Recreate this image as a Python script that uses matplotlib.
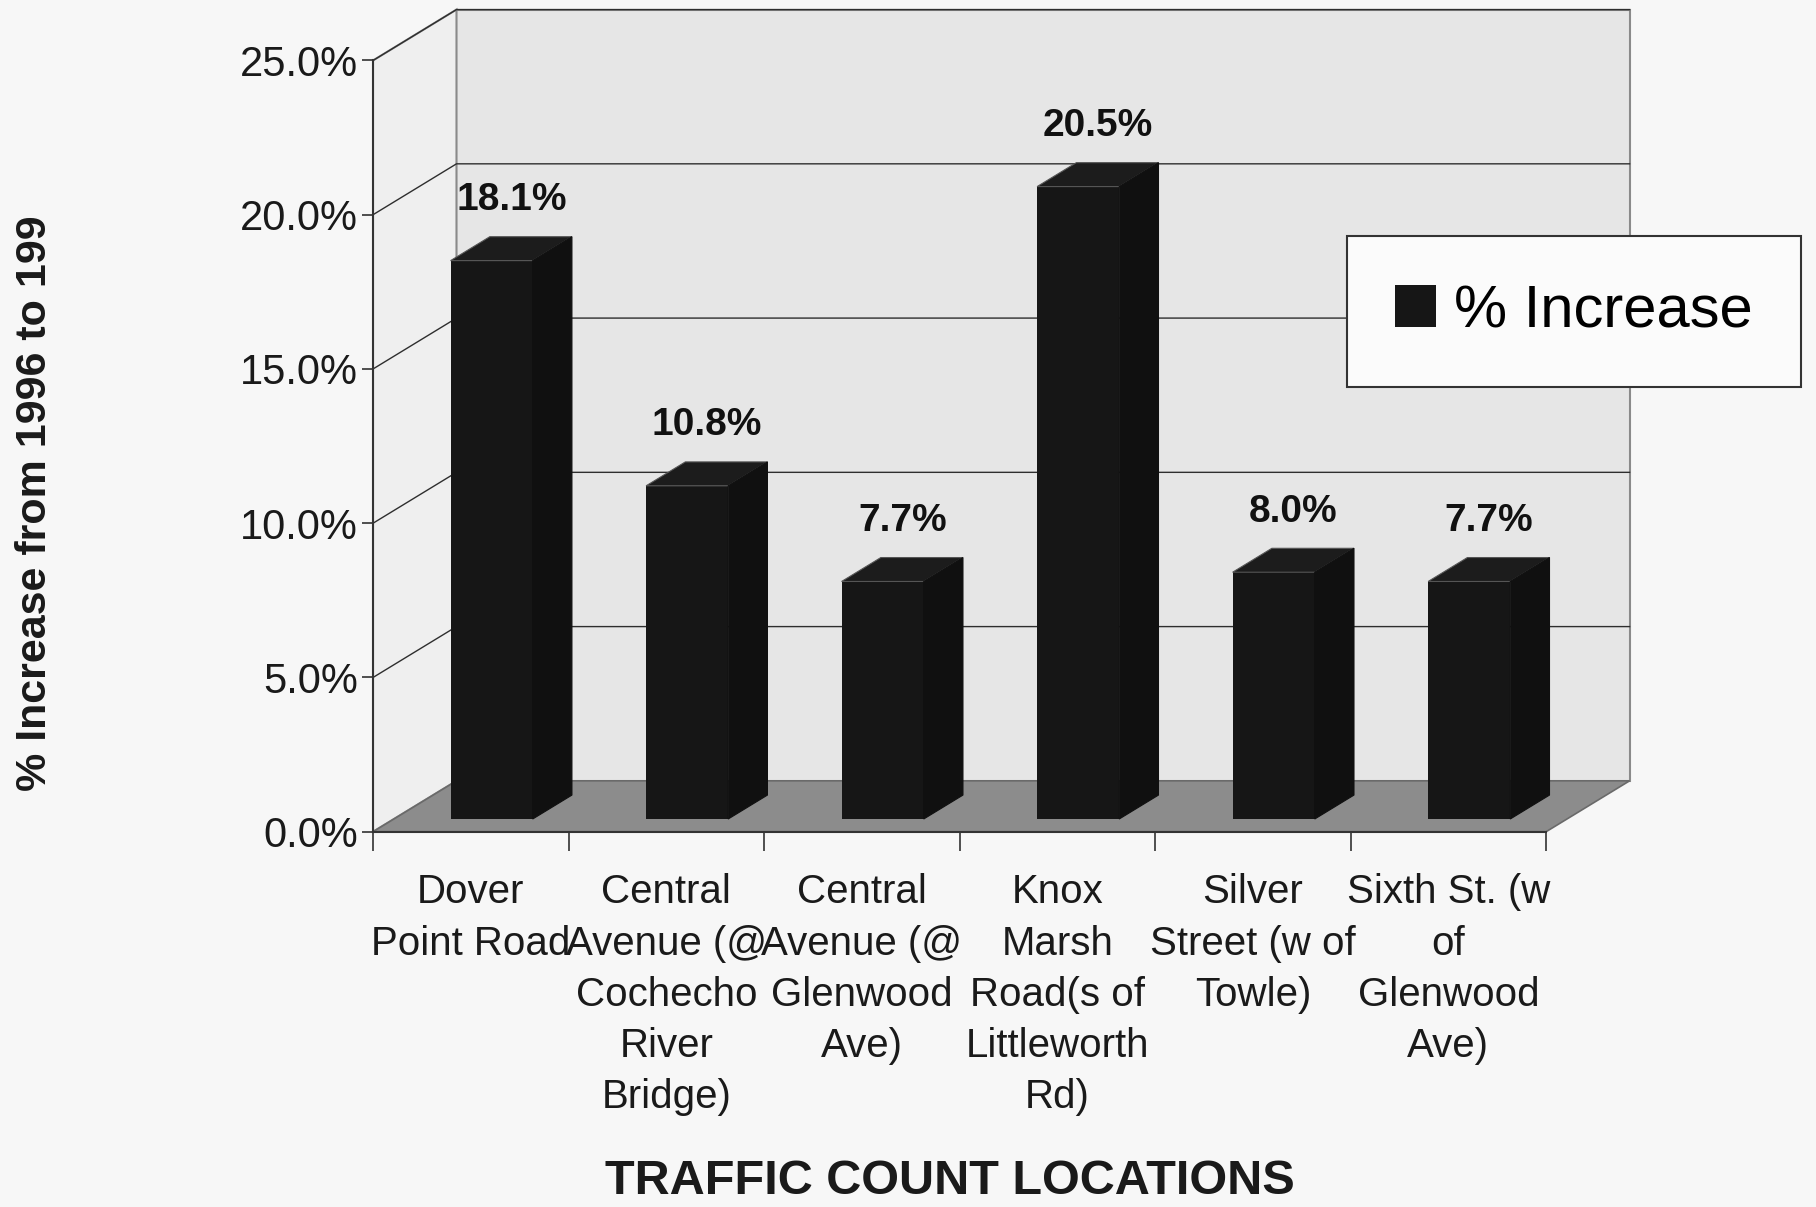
import numpy as np
import matplotlib
matplotlib.use("Agg")
import matplotlib.pyplot as plt
from matplotlib.patches import Polygon, Patch

plt.rcParams['font.family'] = ['Liberation Sans', 'DejaVu Sans']

locations = [
    "Dover\nPoint Road",
    "Central\nAvenue (@\nCochecho\nRiver\nBridge)",
    "Central\nAvenue (@\nGlenwood\nAve)",
    "Knox\nMarsh\nRoad(s of\nLittleworth\nRd)",
    "Silver\nStreet (w of\nTowle)",
    "Sixth St. (w\nof\nGlenwood\nAve)",
]
pct_increase = [18.1, 10.8, 7.7, 20.5, 8.0, 7.7]
y_ticks = [0, 5, 10, 15, 20, 25]

# fake 3d: depth offset of the box in data units
DX, DY = 0.427, 1.65
D0, D1 = 0.25, 0.72     # bar front / back position inside the depth
BW = 0.42               # bar front face width
n = len(locations)
xs = np.arange(n)
ymax = y_ticks[-1]

fig = plt.figure(figsize=(18.16, 12.07), dpi=100)
fig.patch.set_facecolor('#f7f7f7')
ax = fig.add_axes([0.2054, 0.3109, 0.6998, 0.685])
ax.set_xlim(-0.5, 6.0)
ax.set_ylim(0, 26.8)
ax.patch.set_visible(False)

x0, x1 = -0.5, n - 0.5
# back wall
ax.add_patch(Polygon([(x0 + DX, DY), (x1 + DX, DY), (x1 + DX, ymax + DY), (x0 + DX, ymax + DY)],
                     closed=True, facecolor='#e6e6e6', edgecolor='#8a8a8a', lw=1.5, zorder=0))
# left side wall
ax.add_patch(Polygon([(x0, 0), (x0 + DX, DY), (x0 + DX, ymax + DY), (x0, ymax)],
                     closed=True, facecolor='#efefef', edgecolor='#8a8a8a', lw=1.5, zorder=0))
# floor
ax.add_patch(Polygon([(x0, 0), (x1, 0), (x1 + DX, DY), (x0 + DX, DY)],
                     closed=True, facecolor='#8c8c8c', edgecolor='#6a6a6a', lw=1.2, zorder=1))

# gridlines on walls
for t in y_ticks[1:]:
    ax.plot([x0, x0 + DX, x1 + DX], [t, t + DY, t + DY], color='#2e2e2e', lw=1.0, zorder=1)

# bars: front face through ax.bar, top and side faces as polygons
front_left = xs - BW / 2 + D0 * DX
base = D0 * DY
ax.bar(front_left, pct_increase, width=BW, bottom=base, align='edge',
       color='#161616', zorder=3)
bdx, bdy = (D1 - D0) * DX, (D1 - D0) * DY
for xl, v in zip(front_left, pct_increase):
    xr = xl + BW
    top = base + v
    ax.add_patch(Polygon([(xl, top), (xr, top), (xr + bdx, top + bdy), (xl + bdx, top + bdy)],
                         closed=True, facecolor='#1c1c1c', edgecolor='#555555', lw=0.8, zorder=3))
    ax.add_patch(Polygon([(xr, base), (xr + bdx, base + bdy), (xr + bdx, top + bdy), (xr, top)],
                         closed=True, facecolor='#101010', edgecolor='#101010', lw=0.8, zorder=3))
    ax.text(xl + (BW + bdx) / 2, top + bdy + 0.6, f"{v:.1f}%", ha='center', va='bottom',
            fontsize=28, fontweight='bold', color='#111111', zorder=4)

# axes
for s in ['top', 'right']:
    ax.spines[s].set_visible(False)
ax.spines['left'].set_bounds(0, ymax)
ax.spines['bottom'].set_bounds(x0, x1)
ax.spines['left'].set_color('#333333')
ax.spines['bottom'].set_color('#333333')
ax.spines['left'].set_linewidth(1.5)
ax.spines['bottom'].set_linewidth(1.5)

ax.set_yticks(y_ticks)
ax.set_yticklabels([f"{t:.1f}%" for t in y_ticks])
ax.tick_params(axis='y', length=8, width=1.2, pad=3, labelsize=30, colors='#333333', labelcolor='#1a1a1a')

ax.set_xticks(np.arange(x0, x1 + 0.01, 1.0))
ax.set_xticklabels([])
ax.set_xticks(xs, minor=True)
ax.set_xticklabels(locations, minor=True, linespacing=1.44)
ax.tick_params(axis='x', which='major', length=14, width=1.2, colors='#333333')
ax.tick_params(axis='x', which='minor', length=0, pad=30, labelsize=29, labelcolor='#1a1a1a')

fig.text(0.019, 0.583, "% Increase from 1996 to 199", rotation=90, ha='center', va='center',
         fontsize=31, fontweight='bold', color='#1a1a1a')
fig.text(0.523, 0.021, "TRAFFIC COUNT LOCATIONS", ha='center', va='center',
         fontsize=35, fontweight='bold', color='#1a1a1a')

leg = ax.legend(handles=[Patch(facecolor='#161616', label='% Increase')],
                loc='center', bbox_to_anchor=(0.8667, 0.7418), bbox_transform=fig.transFigure,
                fontsize=43, handlelength=0.7, handleheight=0.7, handletextpad=0.3,
                borderpad=0.8, fancybox=False, framealpha=1)
leg.get_frame().set_edgecolor('#333333')
leg.get_frame().set_facecolor('#fbfbfb')
leg.get_frame().set_linewidth(1.5)

fig.savefig('out.png', dpi=100, facecolor=fig.get_facecolor())
